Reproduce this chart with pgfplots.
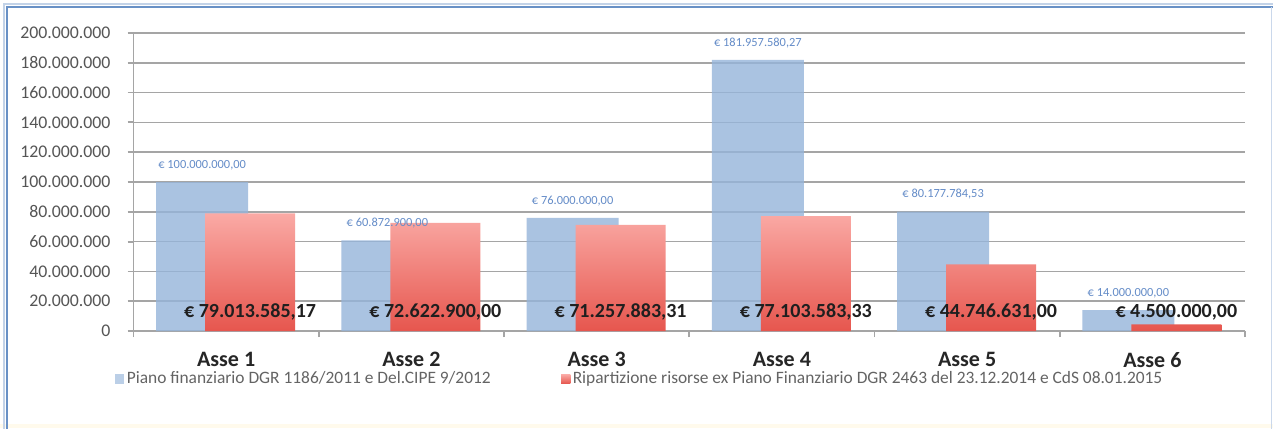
\documentclass[border=0pt]{standalone}
\usepackage{pgfplots}
\pgfplotsset{compat=1.18}
\usepackage{pgfplotstable}
\usepackage{fontspec}
\setmainfont{Carlito}
\definecolor{bluebar}{RGB}{149,180,218}
\definecolor{bluesolid}{RGB}{170,195,225}
\definecolor{redtop}{RGB}{250,170,165}
\definecolor{redbot}{RGB}{230,86,78}
\definecolor{redleg}{RGB}{232,95,88}
\definecolor{gridc}{RGB}{165,165,165}
\definecolor{tickc}{RGB}{85,85,85}
\definecolor{legc}{RGB}{100,100,100}
\definecolor{bluelab}{RGB}{100,140,200}
\definecolor{framec}{RGB}{105,145,198}
\definecolor{beige}{RGB}{255,250,236}

\pgfplotstableread{
x y label
1 100000000 {€ 100.000.000,00}
2 60872900 {€ 60.872.900,00}
3 76000000 {€ 76.000.000,00}
4 181957580.27 {€ 181.957.580,27}
5 80177784.53 {€ 80.177.784,53}
6 14000000 {€ 14.000.000,00}
}\bluetable
\pgfplotstableread{
x y label
1 79013585.17 {€ 79.013.585,17}
2 72622900 {€ 72.622.900,00}
3 71257883.31 {€ 71.257.883,31}
4 77103583.33 {€ 77.103.583,33}
5 44746631 {€ 44.746.631,00}
6 4500000 {€ 4.500.000,00}
}\redtable

\begin{document}
\begin{tikzpicture}
\useasboundingbox (0,0) rectangle (636.5pt,214pt);
\fill[white] (0,0) rectangle (636.5pt,214pt);
\fill[beige] (0,0) rectangle (636.5pt,2pt);
\draw[framec, line width=1.1pt] (3.5pt,-2pt) -- (3.5pt,210.5pt) -- (640pt,210.5pt);
\draw[framec!40, line width=0.8pt] (2pt,-2pt) -- (2pt,212pt) -- (640pt,212pt);
\draw[framec!35, line width=0.8pt] (635.8pt,-2pt) -- (635.8pt,210.5pt);
\begin{axis}[
  at={(66.75pt,48.5pt)}, anchor=south west,
  scale only axis, width=555.75pt, height=149pt,
  xmin=0.5, xmax=6.5, ymin=0, ymax=200000000,
  axis x line*=bottom, axis y line*=left,
  axis line style={gridc, line width=0.9pt},
  ytick={0,20000000,...,200000000},
  scaled y ticks=false,
  yticklabel style={/pgf/number format/fixed, /pgf/number format/1000 sep={.}, /pgf/number format/assume math mode=true,
    font=\fontsize{8.9}{10}\selectfont, text=tickc},
  yticklabel shift=5pt,
  ymajorgrids, grid style={gridc, line width=0.8pt},
  y tick style={gridc, line width=0.9pt}, tick align=outside, major tick length=3pt,
  xtick={1,...,6},
  xticklabels={Asse 1,Asse 2,Asse 3,Asse 4,Asse 5,Asse 6},
  major x tick style={draw=none},
  minor xtick={0.5,1.5,...,6.5},
  minor x tick style={gridc, line width=0.9pt}, minor tick length=3pt,
  xticklabel style={font=\fontsize{11}{12}\bfseries\selectfont, text=black!85, yshift=-4pt},
  legend columns=2,
  legend style={at={(0.4557,-0.161)}, anchor=center, draw=none, fill=none,
    font=\fontsize{8.7}{10}\selectfont, text=legc,
    /tikz/every even column/.append style={column sep=34pt},
    nodes={inner sep=1.2pt}},
]
\addplot[ybar, bar width=46pt, bar shift=-12pt, draw=none, fill=bluebar, fill opacity=0.8,
  legend image code/.code={\fill[fill=bluesolid] (0pt,-2.3pt) rectangle (4.6pt,2.3pt);}]
  table[x=x, y=y] {\bluetable};
\addlegendentry{Piano finanziario DGR 1186/2011 e Del.CIPE 9/2012}
\addplot[ybar, bar width=45pt, bar shift=12pt, draw=none, top color=redtop, bottom color=redbot,
  legend image code/.code={\fill[fill=redleg] (0pt,-2.3pt) rectangle (4.6pt,2.3pt);}]
  table[x=x, y=y] {\redtable};
\addlegendentry{Ripartizione risorse ex Piano Finanziario DGR 2463 del 23.12.2014 e CdS 08.01.2015}
\addplot[forget plot, draw=none, mark=none, point meta=explicit symbolic,
  nodes near coords,
  every node near coord/.append style={anchor=center, xshift=-12pt, yshift=8.5pt,
    font=\fontsize{6.2}{7}\selectfont, text=bluelab}]
  table[x=x, y=y, meta=label] {\bluetable};
\addplot[forget plot, draw=none, mark=none, point meta=explicit symbolic,
  nodes near coords,
  every node near coord/.append style={anchor=center, xshift=12pt,
    font=\fontsize{10}{12}\bfseries\selectfont, text=black!88}]
  table[x=x, y expr=12750000, meta=label] {\redtable};
\end{axis}
\end{tikzpicture}
\end{document}
